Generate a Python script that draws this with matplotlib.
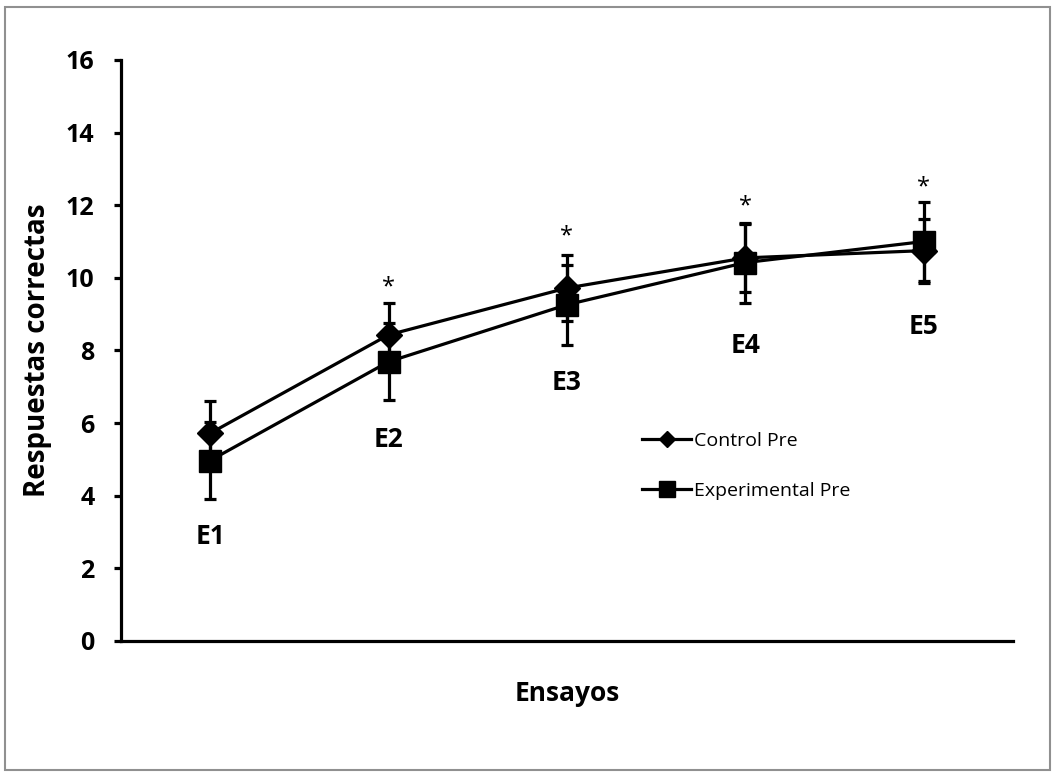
import matplotlib.pyplot as plt
from matplotlib.patches import Rectangle
from matplotlib.lines import Line2D

ensayos = ["E1", "E2", "E3", "E4", "E5"]
control_pre = [5.72, 8.43, 9.72, 10.55, 10.75]
control_sd = [0.9, 0.88, 0.9, 0.94, 0.88]
experimental_pre = [4.97, 7.69, 9.26, 10.42, 11.0]
experimental_sd = [1.05, 1.06, 1.1, 1.1, 1.09]
# label heights above/below points, in data units
label_y = [2.89, 5.54, 7.13, 8.13, 8.65]
asterisk_y = [None, 9.75, 11.13, 11.96, 12.48]

plt.rcParams['font.family'] = ['Open Sans', 'DejaVu Sans']

fig = plt.figure(figsize=(10.55, 7.76), dpi=100)
ax = fig.add_axes([0.1147, 0.174, 0.8453, 0.7487])

x = list(range(len(ensayos)))
lw = 2.3
ax.errorbar(x, control_pre, yerr=control_sd, color='black', lw=lw, marker='D',
            ms=13, elinewidth=lw, capsize=4, capthick=lw, label='Control Pre', zorder=3)
ax.errorbar(x, experimental_pre, yerr=experimental_sd, color='black', lw=lw, marker='s',
            ms=16, elinewidth=lw, capsize=4, capthick=lw, label='Experimental Pre', zorder=3)

for i, name in enumerate(ensayos):
    ax.text(i, label_y[i], name, ha='center', va='center', fontsize=19, fontweight='bold')
    if asterisk_y[i] is not None:
        ax.text(i, asterisk_y[i], '*', ha='center', va='center', fontsize=17)

ax.set_xlim(-0.5, 4.5)
ax.set_ylim(0, 16)
ax.set_yticks(range(0, 17, 2))
ax.set_xticks([])
for side in ['top', 'right']:
    ax.spines[side].set_visible(False)
for side in ['left', 'bottom']:
    ax.spines[side].set_linewidth(2.3)
ax.tick_params(axis='y', length=5, width=2.3, labelsize=18, pad=14)
for t in ax.get_yticklabels():
    t.set_fontweight('bold')

ax.set_ylabel('Respuestas correctas', fontsize=20, fontweight='bold', labelpad=10)
ax.set_xlabel('Ensayos', fontsize=19, fontweight='bold', labelpad=28)

labels = ['Control Pre', 'Experimental Pre']
h = [Line2D([], [], color='black', lw=lw, marker='D', ms=8),
     Line2D([], [], color='black', lw=lw, marker='s', ms=12)]
ax.legend(h, labels, loc='upper left', bbox_to_anchor=(0.565, 0.39), frameon=False,
          fontsize=14, labelspacing=1.65, handlelength=2.5, handletextpad=0.15)

fig.patches.append(Rectangle((5 / 1055, 6 / 776), 1045 / 1055, 763 / 776,
                             transform=fig.transFigure, fill=False,
                             edgecolor='#909090', lw=1.5))

fig.savefig('out.png', dpi=100)
